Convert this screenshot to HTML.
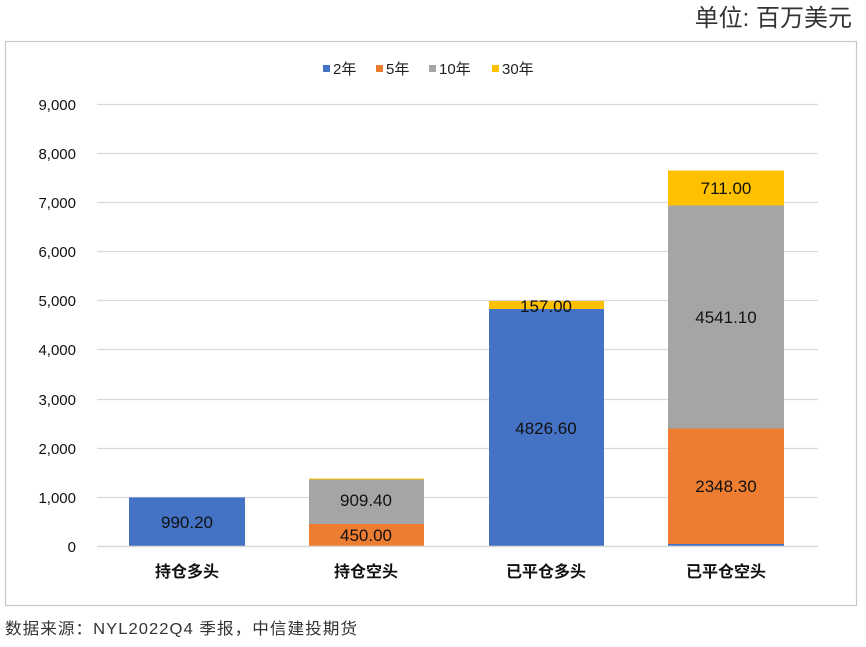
<!DOCTYPE html>
<html><head><meta charset="utf-8"><style>
body{margin:0;background:#fff;}
svg text{font-family:"Liberation Sans","Noto Sans CJK SC",sans-serif;}
</style></head><body>
<svg width="866" height="642" xmlns="http://www.w3.org/2000/svg">
<rect width="866" height="642" fill="#fff"/>
<text x="852" y="26" text-anchor="end" font-size="24" fill="#333">单位: 百万美元</text>
<rect x="5.5" y="41.5" width="851" height="564" fill="#fff" stroke="#c8c8c8" stroke-width="1.2"/>
<rect x="323" y="65" width="7" height="7" fill="#4472c4"/><text x="333" y="74" font-size="15" fill="#222">2年</text>
<rect x="376" y="65" width="7" height="7" fill="#ed7d31"/><text x="386" y="74" font-size="15" fill="#222">5年</text>
<rect x="429" y="65" width="7" height="7" fill="#a5a5a5"/><text x="439" y="74" font-size="15" fill="#222">10年</text>
<rect x="492" y="65" width="7" height="7" fill="#ffc000"/><text x="502" y="74" font-size="15" fill="#222">30年</text>
<g stroke="#d9d9d9" stroke-width="1.2">
<line x1="97" x2="818" y1="104.5" y2="104.5"/><line x1="97" x2="818" y1="153.5" y2="153.5"/>
<line x1="97" x2="818" y1="202.5" y2="202.5"/><line x1="97" x2="818" y1="251.5" y2="251.5"/>
<line x1="97" x2="818" y1="300.5" y2="300.5"/><line x1="97" x2="818" y1="349.5" y2="349.5"/>
<line x1="97" x2="818" y1="399.5" y2="399.5"/><line x1="97" x2="818" y1="448.5" y2="448.5"/>
<line x1="97" x2="818" y1="497.5" y2="497.5"/>
</g>
<g font-size="15" fill="#111" text-anchor="end">
<text x="76" y="110">9,000</text><text x="76" y="159">8,000</text><text x="76" y="208">7,000</text>
<text x="76" y="257">6,000</text><text x="76" y="306">5,000</text><text x="76" y="355">4,000</text>
<text x="76" y="405">3,000</text><text x="76" y="454">2,000</text><text x="76" y="503">1,000</text>
<text x="76" y="552">0</text>
</g>
<rect x="129" y="497.4" width="116" height="48.6" fill="#4472c4"/>
<rect x="309" y="524" width="115" height="22" fill="#ed7d31"/>
<rect x="309" y="479.5" width="115" height="44.5" fill="#a5a5a5"/>
<rect x="309" y="478.5" width="115" height="1" fill="#ffc000"/>
<rect x="489" y="309" width="115" height="237" fill="#4472c4"/>
<rect x="489" y="301" width="115" height="8" fill="#ffc000"/>
<rect x="668" y="544" width="116" height="2" fill="#4472c4"/>
<rect x="668" y="428.5" width="116" height="115.5" fill="#ed7d31"/>
<rect x="668" y="205.5" width="116" height="223" fill="#a5a5a5"/>
<rect x="668" y="170.5" width="116" height="35" fill="#ffc000"/>
<line x1="97" x2="818" y1="546.5" y2="546.5" stroke="#d9d9d9" stroke-width="1.5"/>
<g font-size="17" fill="#111" text-anchor="middle">
<text x="187" y="528">990.20</text>
<text x="366" y="541">450.00</text>
<text x="366" y="506">909.40</text>
<text x="546" y="434">4826.60</text>
<text x="546" y="312">157.00</text>
<text x="726" y="492">2348.30</text>
<text x="726" y="323">4541.10</text>
<text x="726" y="194">711.00</text>
</g>
<g font-size="16" fill="#111" text-anchor="middle" font-weight="bold">
<text x="187" y="577">持仓多头</text><text x="366" y="577">持仓空头</text>
<text x="546" y="577">已平仓多头</text><text x="726" y="577">已平仓空头</text>
</g>
<text x="5" y="634" font-size="16" fill="#333" letter-spacing="1" textLength="353" lengthAdjust="spacingAndGlyphs">数据来源：NYL2022Q4 季报，中信建投期货</text>
</svg>
</body></html>
